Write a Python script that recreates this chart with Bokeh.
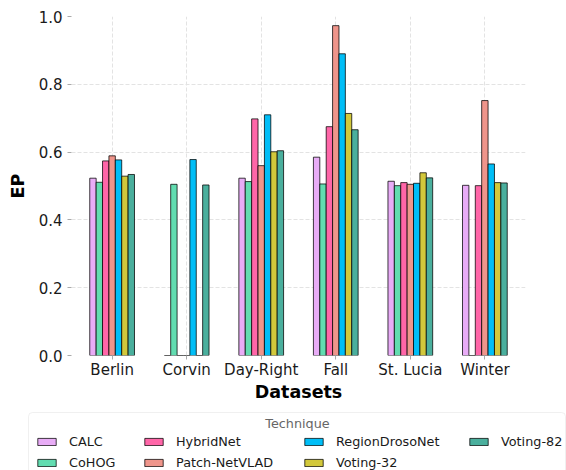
from bokeh.plotting import figure
from bokeh.layouts import column, row
from bokeh.models import (FactorRange, Range1d, ColumnDataSource, Legend, LegendItem,
                          FixedTicker, PrintfTickFormatter, BoxAnnotation, Label)
from bokeh.transform import dodge
from bokeh.embed import file_html
from bokeh.resources import INLINE

datasets = ["Berlin", "Corvin", "Day-Right", "Fall", "St. Lucia", "Winter"]
techniques = ["CALC", "CoHOG", "HybridNet", "Patch-NetVLAD", "RegionDrosoNet", "Voting-32", "Voting-82"]
calc = [0.523, 0.0, 0.523, 0.585, 0.514, 0.502]
cohog = [0.511, 0.505, 0.513, 0.506, 0.501, 0.0]
hybridnet = [0.574, 0.0, 0.698, 0.675, 0.510, 0.501]
patch_netvlad = [0.589, 0.0, 0.560, 0.973, 0.505, 0.752]
regiondrosonet = [0.577, 0.578, 0.710, 0.890, 0.508, 0.565]
voting32 = [0.529, 0.0, 0.601, 0.714, 0.539, 0.510]
voting82 = [0.534, 0.503, 0.604, 0.666, 0.524, 0.509]
series = [calc, cohog, hybridnet, patch_netvlad, regiondrosonet, voting32, voting82]
colors = ["#e8acf6", "#62dcb0", "#ff66a8", "#ef958b", "#00bef7", "#d2c83b", "#4aaf9d"]
y_ticks = [0.0, 0.2, 0.4, 0.6, 0.8, 1.0]

FONT = "DejaVu Sans"

src = ColumnDataSource(data=dict(dataset=datasets,
                                 **{f"s{i}": s for i, s in enumerate(series)}))

p = figure(x_range=FactorRange(factors=datasets, range_padding=0.015),
           y_range=Range1d(0, 1.0),
           frame_width=454, frame_height=339,
           min_border_left=71, min_border_right=41, min_border_top=16, min_border_bottom=50,
           output_backend="svg", toolbar_location=None, tools="")

p.outline_line_color = None
p.background_fill_color = "white"
p.border_fill_color = "white"

n = len(techniques)
bw = 0.6 / n
for i, col in enumerate(colors):
    off = (i - (n - 1) / 2) * bw
    p.vbar(x=dodge("dataset", off, range=p.x_range), top=f"s{i}", width=bw,
           bottom=0, source=src, fill_color=col, line_color="black",
           line_alpha=0.75, line_width=1)

# grid
for g in (p.xgrid, p.ygrid):
    g.grid_line_color = "#e3e3e3"
    g.grid_line_dash = "4 2"
    g.grid_line_width = 1

# axes
p.yaxis.ticker = FixedTicker(ticks=y_ticks)
p.yaxis.formatter = PrintfTickFormatter(format="%.1f")
for ax in (p.xaxis, p.yaxis):
    ax.axis_line_color = None
    ax.major_tick_line_color = "#aaaaaa"
    ax.major_tick_in = 0
    ax.major_tick_out = 4
    ax.minor_tick_line_color = None
    ax.major_label_text_font = FONT
    ax.major_label_text_font_size = "15px"
    ax.major_label_text_color = "#1a1a1a"
    ax.axis_label_text_font = FONT
    ax.axis_label_text_font_size = "17.5px"
    ax.axis_label_text_font_style = "bold"
    ax.axis_label_text_color = "black"
p.xaxis.axis_label = "Datasets"
p.yaxis.axis_label = "EP"
p.xaxis.major_label_standoff = 1
p.xaxis.axis_label_standoff = 0
p.yaxis.major_label_standoff = 5
p.yaxis.axis_label_standoff = 8

# legend strip below the plot (screen-like units: 0..566 x 0..65)
LW, LH = 566, 65
lg = figure(width=LW, height=LH, x_range=Range1d(0, LW), y_range=Range1d(0, LH),
            min_border=0, x_axis_type=None, y_axis_type=None,
            output_backend="svg", toolbar_location=None, tools="")
lg.outline_line_color = None
lg.xgrid.visible = False
lg.ygrid.visible = False
lg.border_fill_color = "white"

lg.add_layout(BoxAnnotation(left=28, right=LW - 1, top=LH - 7, bottom=-20,
                            fill_color="white", fill_alpha=1.0,
                            line_color="#cccccc", line_width=1, border_radius=4))
lg.add_layout(Label(x=297, y=LH - 18, text="Technique", text_align="center",
                    text_baseline="middle", text_font=FONT, text_font_size="12.8px",
                    text_color="#666666"))

renderers = []
for col in colors:
    r = lg.vbar(x=[-1000], top=[-1000], bottom=[-1001], width=1, fill_color=col,
                line_color="black", line_alpha=0.75, line_width=1)
    renderers.append(r)

ITEM_H, SPACING, TOP_OFF = 20, 1, 26
col_x = [35, 142, 302, 467]
for c, x0 in enumerate(col_x):
    idx = [k for k in (2 * c, 2 * c + 1) if k < n]
    h = ITEM_H * len(idx) + SPACING * (len(idx) - 1)
    leg = Legend(items=[LegendItem(label=techniques[k], renderers=[renderers[k]]) for k in idx],
                 location=(x0, LH - TOP_OFF - h), orientation="vertical",
                 label_text_font=FONT, label_text_font_size="12.8px", label_text_color="#1a1a1a",
                 label_standoff=11, label_height=ITEM_H, glyph_width=23, glyph_height=9,
                 spacing=SPACING, padding=0, margin=0,
                 border_line_color=None, background_fill_alpha=0)
    lg.add_layout(leg, "center")

layout = column(p, row(lg), spacing=0)
open("out.html", "w").write(file_html(layout, INLINE))
